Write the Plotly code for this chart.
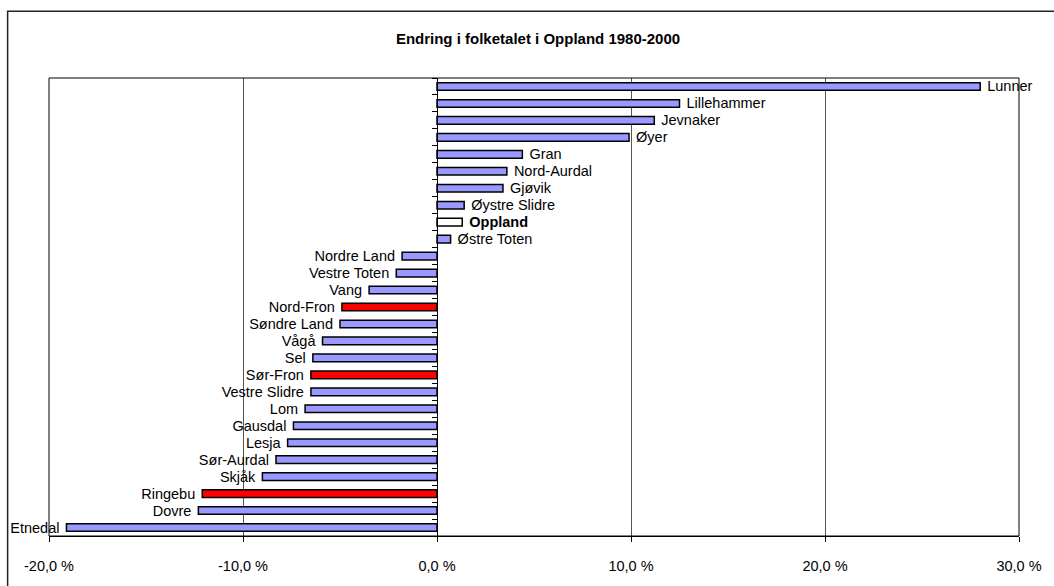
import plotly.graph_objects as go

# Data (top to bottom as in the chart)
kommunar = ["Lunner", "Lillehammer", "Jevnaker", "Øyer", "Gran", "Nord-Aurdal", "Gjøvik",
            "Øystre Slidre", "Oppland", "Østre Toten", "Nordre Land", "Vestre Toten", "Vang",
            "Nord-Fron", "Søndre Land", "Vågå", "Sel", "Sør-Fron", "Vestre Slidre", "Lom",
            "Gausdal", "Lesja", "Sør-Aurdal", "Skjåk", "Ringebu", "Dovre", "Etnedal"]
endring = [28.0, 12.5, 11.2, 9.9, 4.4, 3.6, 3.4, 1.4, 1.3, 0.7, -1.8, -2.1, -3.5,
           -4.9, -5.0, -5.9, -6.4, -6.5, -6.5, -6.8, -7.4, -7.7, -8.3, -9.0, -12.1, -12.3, -19.1]
markerte = ["Nord-Fron", "Sør-Fron", "Ringebu"]
totalt = "Oppland"
tick_vals = [-20, -10, 0, 10, 20, 30]
tick_text = ["-20,0 %", "-10,0 %", "0,0 %", "10,0 %", "20,0 %", "30,0 %"]

colors = []
texts = []
for k, v in zip(kommunar, endring):
    label = "<b>" + k + "</b>" if k == totalt else k
    label = "\u00a0" + label if v >= 0 else label + "\u00a0"
    texts.append(label)
    if k == totalt:
        colors.append("#FFFFFF")
    elif k in markerte:
        colors.append("#FF0000")
    else:
        colors.append("#9999FF")

font = "Liberation Sans, Arial"

fig = go.Figure()
fig.add_trace(go.Bar(
    y=kommunar, x=endring, orientation="h",
    marker=dict(color=colors, line=dict(color="black", width=1.5)),
    text=texts, textposition="outside", cliponaxis=False, constraintext="none",
    textfont=dict(family=font, size=14.5, color="black"),
    hoverinfo="skip",
))

fig.update_layout(
    width=1054, height=586,
    margin=dict(l=49, r=32, t=78, b=45),
    paper_bgcolor="white", plot_bgcolor="white",
    showlegend=False,
    bargap=0.55,
    title=dict(text="<b>Endring i folketalet i Oppland 1980-2000</b>",
               font=dict(family=font, size=15, color="black"),
               xref="container", x=538 / 1054, xanchor="center",
               yref="container", y=1 - 39 / 586, yanchor="middle"),
    xaxis=dict(range=[-20, 30], tickvals=tick_vals, ticktext=tick_text,
               ticks="outside", ticklen=5, tickcolor="black", tickwidth=1,
               ticklabelstandoff=12,
               tickfont=dict(family=font, size=14.5, color="black"),
               showgrid=True, gridcolor="#555555", gridwidth=1,
               zeroline=False, showline=True, linecolor="black", linewidth=1,
               fixedrange=True),
    yaxis=dict(anchor="free", position=0.4, autorange="reversed",
               showticklabels=False, ticks="outside", ticklen=5,
               tickcolor="black", tickson="boundaries",
               showline=True, linecolor="black", linewidth=1,
               showgrid=False, zeroline=False, fixedrange=True),
    shapes=[
        dict(type="rect", xref="x domain", yref="y domain", x0=0, x1=1, y0=0, y1=1,
             line=dict(color="black", width=1), layer="above"),
        dict(type="rect", xref="paper", yref="paper",
             x0=(7.5 - 49) / 973, x1=1.2, y0=-0.3, y1=1 + (78 - 10.5) / 463,
             line=dict(color="#222222", width=1.5), layer="below"),
    ],
)

fig.write_html("out.html", config={"displayModeBar": False},
               post_script="document.body.style.margin='0px';")
